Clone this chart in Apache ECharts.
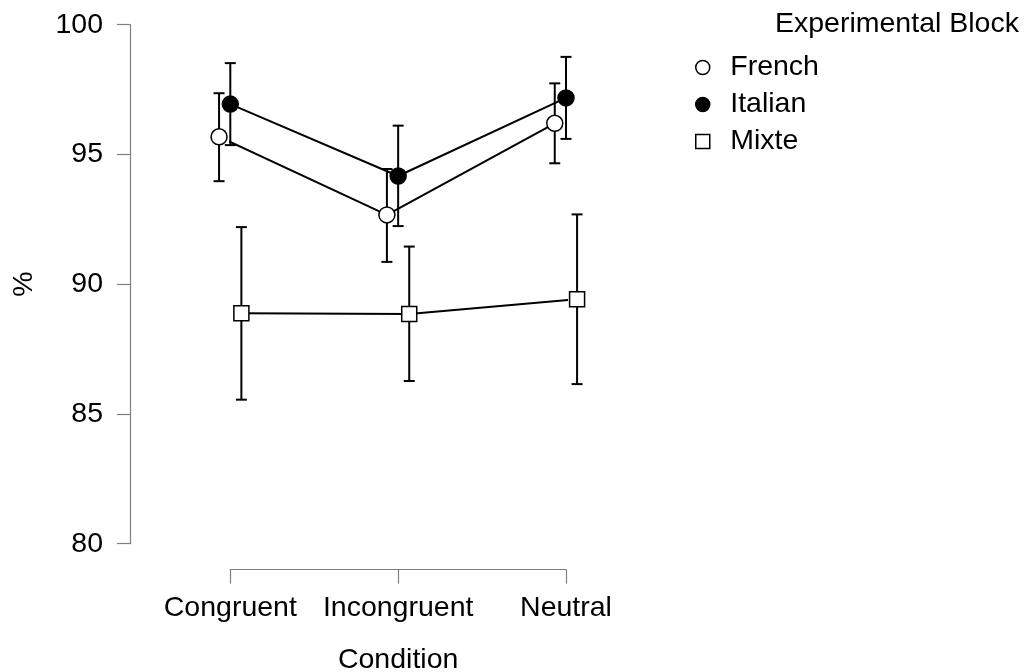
<!DOCTYPE html>
<html>
<head>
<meta charset="utf-8">
<script src="https://cdn.jsdelivr.net/npm/echarts@6/dist/echarts.min.js"></script>
<style>
html, body { margin: 0; padding: 0; background: #fff; }
#chart { width: 1026px; height: 672px; }
</style>
</head>
<body>
<div id="chart"></div>
<script>
var conditions = ['Congruent', 'Incongruent', 'Neutral'];
var groups = ['French', 'Italian', 'Mixte'];
// mean, lower and upper bound of the error bar, per condition
var frenchMean = [95.68, 92.67, 96.20];
var frenchLow = [93.97, 90.86, 94.66];
var frenchHigh = [97.36, 94.44, 97.74];
var italianMean = [96.94, 94.17, 97.18];
var italianLow = [95.36, 92.24, 95.60];
var italianHigh = [98.52, 96.11, 98.76];
var mixteMean = [88.88, 88.85, 89.42];
var mixteLow = [85.55, 86.27, 86.15];
var mixteHigh = [92.20, 91.45, 92.69];
var yTicks = [80, 85, 90, 95, 100];

var font = "'Liberation Sans', Arial, sans-serif";
var fs = 28.5;
var dodge = [-0.067, 0, 0.066];
var square = 'path://M0,0L10,0L10,10L0,10Z';

function points(means, g) {
    return means.map(function (v, i) { return [i + 1 + dodge[g], v]; });
}
function bars(low, high, g) {
    return low.map(function (v, i) { return [i + 1 + dodge[g], v, high[i]]; });
}

function errorBar(params, api) {
    var x = api.value(0);
    var lo = api.coord([x, api.value(1)]);
    var hi = api.coord([x, api.value(2)]);
    var cap = 5.5;
    var style = { stroke: '#000', lineWidth: 2 };
    return {
        type: 'group',
        children: [
            { type: 'line', shape: { x1: lo[0], y1: lo[1], x2: hi[0], y2: hi[1] }, style: style },
            { type: 'line', shape: { x1: lo[0] - cap, y1: lo[1], x2: lo[0] + cap, y2: lo[1] }, style: style },
            { type: 'line', shape: { x1: hi[0] - cap, y1: hi[1], x2: hi[0] + cap, y2: hi[1] }, style: style }
        ]
    };
}

function errSeries(low, high, g) {
    return {
        type: 'custom',
        renderItem: errorBar,
        data: bars(low, high, g),
        clip: false,
        silent: true,
        z: 1
    };
}

function lineSeries(name, means, g, symbol, size, fill) {
    return {
        name: name,
        type: 'line',
        data: points(means, g),
        symbol: symbol,
        symbolSize: size,
        showAllSymbol: true,
        clip: false,
        z: 3,
        lineStyle: { color: '#000', width: 2 },
        itemStyle: { color: fill, borderColor: '#000', borderWidth: 1.5, opacity: 1 }
    };
}

var chart = echarts.init(document.getElementById('chart'));
var option = {
    animation: false,
    backgroundColor: '#fff',
    textStyle: { fontFamily: font },
    title: {
        text: 'Experimental Block',
        left: 770,
        top: 5,
        textStyle: { fontFamily: font, fontSize: fs, fontWeight: 'normal', color: '#000' }
    },
    legend: {
        orient: 'vertical',
        left: 695,
        top: 53,
        padding: 0,
        itemWidth: 45,
        itemHeight: 14,
        itemGap: 8,
        textStyle: { fontFamily: font, fontSize: fs, color: '#000' },
        data: [
            { name: 'French', icon: 'circle', itemStyle: { color: '#fff', borderColor: '#000', borderWidth: 1.5 } },
            { name: 'Italian', icon: 'circle', itemStyle: { color: '#000', borderColor: '#000', borderWidth: 1.5 } },
            { name: 'Mixte', icon: square, itemStyle: { color: '#fff', borderColor: '#000', borderWidth: 1.5 } }
        ]
    },
    grid: { left: 230.3, top: 24.7, width: 335.7, height: 519, outerBoundsMode: 'none' },
    xAxis: {
        type: 'value',
        min: 1,
        max: 3,
        interval: 1,
        offset: 26,
        name: 'Condition',
        nameLocation: 'middle',
        nameGap: 76,
        nameTextStyle: { fontFamily: font, fontSize: fs, color: '#000' },
        axisLine: { lineStyle: { color: '#808080', width: 1.2 } },
        axisTick: { length: 14, lineStyle: { color: '#808080', width: 1.2 } },
        splitLine: { show: false },
        axisLabel: {
            margin: 24,
            fontFamily: font,
            fontSize: fs,
            color: '#000',
            formatter: function (v) { return conditions[v - 1] || ''; }
        }
    },
    yAxis: {
        type: 'value',
        min: yTicks[0],
        max: yTicks[yTicks.length - 1],
        interval: 5,
        offset: 100.3,
        name: '%',
        nameLocation: 'middle',
        nameGap: 91,
        nameRotate: 90,
        nameTextStyle: { fontFamily: font, fontSize: fs, color: '#000' },
        axisLine: { show: true, lineStyle: { color: '#808080', width: 1.2 } },
        axisTick: { show: true, length: 13, lineStyle: { color: '#808080', width: 1.2 } },
        splitLine: { show: false },
        axisLabel: { margin: 27, padding: [9, 0, 0, 0], fontFamily: font, fontSize: fs, color: '#000' }
    },
    series: [
        errSeries(frenchLow, frenchHigh, 0),
        errSeries(italianLow, italianHigh, 1),
        errSeries(mixteLow, mixteHigh, 2),
        lineSeries(groups[0], frenchMean, 0, 'circle', 16, '#fff'),
        lineSeries(groups[1], italianMean, 1, 'circle', 16, '#000'),
        lineSeries(groups[2], mixteMean, 2, 'rect', 15, '#fff')
    ]
};
chart.setOption(option);
window.addEventListener('resize', function () {
    chart.resize();
});
</script>
</body>
</html>
